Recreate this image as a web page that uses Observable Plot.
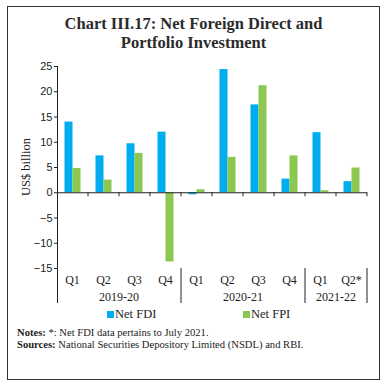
<!DOCTYPE html>
<html><head><meta charset="utf-8">
<script src="https://cdn.jsdelivr.net/npm/d3@7"></script>
<script src="https://cdn.jsdelivr.net/npm/@observablehq/plot@0.6"></script>
<style>
body{margin:0;background:#fff;}
#wrap{position:relative;width:387px;height:388px;font-family:"Liberation Serif",serif;color:#222;}
#frame{position:absolute;left:7px;top:6px;width:371px;height:372px;border:1.5px solid #333;}
#title{position:absolute;left:0;top:14px;width:387px;text-align:center;font-weight:bold;font-size:16.5px;line-height:19px;color:#2b2b2b;}
#chart{position:absolute;left:0;top:50px;}
#legend{position:absolute;top:307px;left:0;width:387px;font-size:12.5px;}
.lg{position:absolute;display:flex;align-items:center;}
.sw{width:7px;height:7px;margin-right:1px;}
#notes{position:absolute;left:17px;top:327px;font-size:10.6px;line-height:11.5px;}
</style></head>
<body><div id="wrap"><div id="frame"></div>
<div id="title">Chart III.17: Net Foreign Direct and<br>Portfolio Investment</div>
<div id="chart"></div>
<div id="legend"></div>
<div id="notes"><b>Notes:</b> *: Net FDI data pertains to July 2021.<br><b>Sources:</b> National Securities Depository Limited (NSDL) and RBI.</div>
</div>
<script>
const years = ["2019-20","2019-20","2019-20","2019-20","2020-21","2020-21","2020-21","2020-21","2021-22","2021-22"];
const quarters = ["Q1","Q2","Q3","Q4","Q1","Q2","Q3","Q4","Q1","Q2*"];
const netFDI = [14.0, 7.3, 9.7, 12.0, -0.4, 24.4, 17.4, 2.7, 11.9, 2.2];
const netFPI = [4.8, 2.5, 7.8, -13.7, 0.6, 7.0, 21.2, 7.3, 0.4, 4.9];
const yearGroups = ["2019-20","2020-21","2021-22"];
const seriesNames = ["Net FDI","Net FPI"];
const colors = ["#00AEEF","#8CC751"];
const yTicks = [-15,-10,-5,0,5,10,15,20,25];

const keys = quarters.map((q,i)=>years[i]+"|"+q);
const fdi = keys.map((k,i)=>({k, v:netFDI[i]}));
const fpi = keys.map((k,i)=>({k, v:netFPI[i]}));
const qLabels = keys.map((k,i)=>({k, q:quarters[i]}));
const yrs = yearGroups.map(y=>{const ks=keys.filter((k,i)=>years[i]===y);return {y, first:ks[0], last:ks[ks.length-1]};});

const H=260, mT=16, mB=42, mL=57, mR=20;
const plot = Plot.plot({
  width:387, height:H, marginTop:mT, marginBottom:mB, marginLeft:mL, marginRight:mR,
  x:{type:"band", domain:keys, padding:0, axis:null},
  y:{domain:[-15,25], axis:null},
  style:{fontFamily:"Liberation Sans, sans-serif", fontSize:"11px", color:"#222", background:"transparent"},
  marks:[
    Plot.barY(fdi,{x:"k", y:"v", fill:colors[0], insetLeft:7.5, insetRight:15.5}),
    Plot.barY(fpi,{x:"k", y:"v", fill:colors[1], insetLeft:15.5, insetRight:7.5}),
    Plot.ruleY([0],{stroke:"#222", strokeWidth:1}),
    Plot.axisY({ticks:yTicks, tickSize:3, tickPadding:2, fontSize:11, label:null, stroke:"#222"})
  ]
});
document.getElementById("chart").appendChild(plot);

const sx = plot.scale("x"), sy = plot.scale("y");
const svg = d3.select(plot);
const y0 = sy.apply(0), yTop = sy.apply(25), yBot = sy.apply(-15);
const bw = sx.bandwidth;
const g = svg.append("g").attr("stroke","#222").attr("stroke-width",1);
g.append("line").attr("x1",mL+0.5).attr("x2",mL+0.5).attr("y1",yTop).attr("y2",yBot+35);
keys.forEach(k=>{const x=sx.apply(k)+bw; g.append("line").attr("x1",x).attr("x2",x).attr("y1",y0).attr("y2",y0+4);});
yrs.forEach(d=>{const x=sx.apply(d.last)+bw; g.append("line").attr("x1",x).attr("x2",x).attr("y1",yBot).attr("y2",yBot+35);});
const tg = svg.append("g").style("font-family","Liberation Serif, serif").style("font-size","12px").attr("fill","#222").attr("text-anchor","middle");
qLabels.forEach(d=>{tg.append("text").attr("x",sx.apply(d.k)+bw/2).attr("y",yBot+16).text(d.q);});
yrs.forEach(d=>{const x0=sx.apply(d.first), x1=sx.apply(d.last)+bw; tg.append("text").attr("x",(x0+x1)/2).attr("y",yBot+33).text(d.y);});
tg.append("text").attr("transform",`translate(30,${(yTop+yBot)/2}) rotate(-90)`).style("font-size","12.5px").style("font-family","Liberation Serif, serif").text("US$ billion");

const lg = document.getElementById("legend");
[[107,0],[243,1]].forEach(([x,i])=>{
  const d=document.createElement("div"); d.className="lg"; d.style.left=x+"px";
  d.innerHTML=`<span class="sw" style="background:${colors[i]}"></span>${seriesNames[i]}`;
  lg.appendChild(d);
});
</script>
</body></html>
